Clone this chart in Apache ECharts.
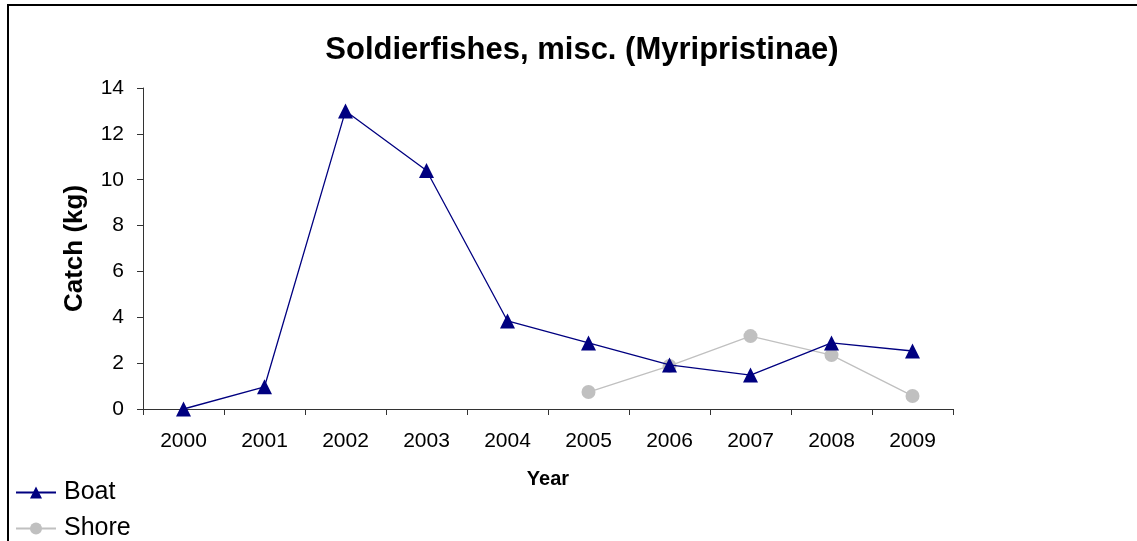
<!DOCTYPE html>
<html><head><meta charset="utf-8">
<script src="https://cdn.jsdelivr.net/npm/echarts@6/dist/echarts.min.js"></script>
<style>html,body{margin:0;padding:0;background:#fff}#c{width:1137px;height:541px}</style>
</head><body><div id="c"></div>
<script>
var years = ['2000','2001','2002','2003','2004','2005','2006','2007','2008','2009'];
var boat = [0, 0.97, 13.0, 10.4, 3.84, 2.88, 1.92, 1.48, 2.88, 2.53];
var shore = [null, null, null, null, null, 0.74, 1.88, 3.18, 2.35, 0.57];
var yTicks = [0, 2, 4, 6, 8, 10, 12, 14];

var chart = echarts.init(document.getElementById('c'), null, {renderer:'canvas'});
var font = 'Liberation Sans, Arial, sans-serif';
var legendText = {fontFamily: font, fontSize: 25, color: '#000', padding: [0, 0, 0, 3]};
chart.setOption({
  animation: false,
  backgroundColor: '#fff',
  textStyle: {fontFamily: font},
  title: {
    text: 'Soldierfishes, misc. (Myripristinae)',
    left: 577, top: 30, textAlign: 'center',
    textStyle: {fontFamily: font, fontSize: 31, fontWeight: 'bold', color: '#000'}
  },
  grid: {left: 143, right: 184, top: 88, bottom: 132, containLabel: false},
  xAxis: {
    type: 'category', data: years, boundaryGap: true,
    name: 'Year', nameLocation: 'middle', nameGap: 60,
    nameTextStyle: {fontFamily: font, fontSize: 20, fontWeight: 'bold', color: '#000'},
    axisLine: {lineStyle: {color: '#333', width: 1}},
    axisTick: {show: true, alignWithLabel: false, length: 6, lineStyle: {color: '#333'}},
    axisLabel: {fontFamily: font, fontSize: 21, color: '#000', margin: 22},
    splitLine: {show: false}
  },
  yAxis: {
    type: 'value', min: yTicks[0], max: yTicks[yTicks.length-1], interval: 2,
    name: 'Catch (kg)', nameLocation: 'middle', nameGap: 55,
    nameTextStyle: {fontFamily: font, fontSize: 26, fontWeight: 'bold', color: '#000'},
    axisLine: {show: true, lineStyle: {color: '#333', width: 1}},
    axisTick: {show: true, length: 6, lineStyle: {color: '#333'}},
    axisLabel: {fontFamily: font, fontSize: 21, color: '#000', margin: 19},
    splitLine: {show: false}
  },
  legend: [
    {left: 15, top: 480, padding: 0, itemWidth: 40, itemHeight: 15, itemGap: 8,
     textStyle: legendText, data: ['Boat']},
    {left: 15, top: 516, padding: 0, itemWidth: 40, itemHeight: 15, itemGap: 8,
     textStyle: legendText, data: ['Shore']}
  ],
  series: [
    {name: 'Boat', type: 'line', data: boat, symbol: 'triangle', symbolSize: 15,
     itemStyle: {color: '#000080'}, lineStyle: {color: '#000080', width: 1.3}, z: 3},
    {name: 'Shore', type: 'line', data: shore, symbol: 'circle', symbolSize: 14,
     itemStyle: {color: '#c0c0c0'}, lineStyle: {color: '#c0c0c0', width: 1.3}, z: 2}
  ],
  graphic: [
    {type: 'line', shape: {x1: 7, y1: 5, x2: 1137, y2: 5}, style: {stroke: '#000', lineWidth: 2}},
    {type: 'line', shape: {x1: 8, y1: 4, x2: 8, y2: 541}, style: {stroke: '#000', lineWidth: 2}}
  ]
});
</script></body></html>
